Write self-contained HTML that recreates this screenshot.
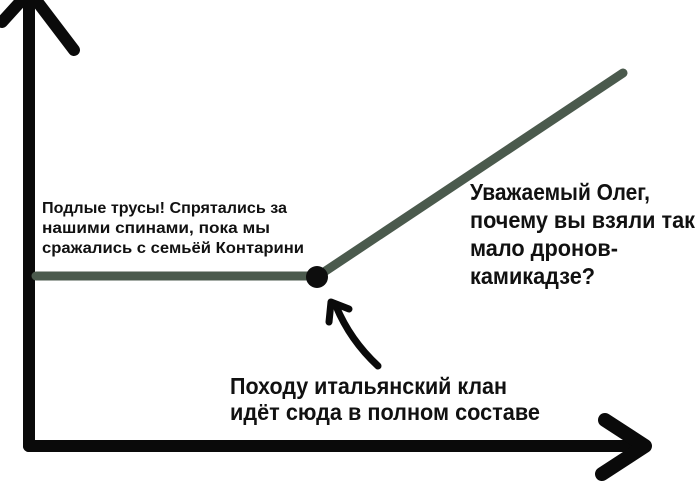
<!DOCTYPE html>
<html><head><meta charset="utf-8"><style>
html,body{margin:0;padding:0;background:#fff;}
svg{display:block}
text{font-family:"Liberation Sans",sans-serif;font-weight:bold;fill:#111;}
</style></head><body>
<svg width="700" height="492" viewBox="0 0 700 492" xmlns="http://www.w3.org/2000/svg">
<g stroke="#0a0a0a" stroke-linecap="round" stroke-linejoin="round" fill="none">
<line x1="29" y1="0" x2="29" y2="446" stroke-width="12"/>
<line x1="29" y1="446" x2="645" y2="446" stroke-width="12"/>
<path d="M22 0 L2 22" stroke-width="12"/>
<path d="M36 0 L74 50" stroke-width="12"/>
<path d="M605 420 L645 446 L602 474" stroke-width="14"/>
<path d="M378 366 Q350 340 336 306" stroke-width="7"/>
<path d="M349 309 L331 302 L329 322" stroke-width="7"/>
</g>
<g stroke="#4b5a4d" stroke-linecap="round" fill="none" stroke-width="9">
<line x1="36" y1="276" x2="318" y2="276"/>
<line x1="318" y1="276" x2="623" y2="73"/>
</g>
<circle cx="317" cy="277" r="11" fill="#0d0d0d"/>
<text font-size="16" lengthAdjust="spacingAndGlyphs"><tspan x="42" y="213" textLength="245" lengthAdjust="spacingAndGlyphs">Подлые трусы! Спрятались за</tspan><tspan x="42" y="233" textLength="228" lengthAdjust="spacingAndGlyphs">нашими спинами, пока мы</tspan><tspan x="42" y="253" textLength="262" lengthAdjust="spacingAndGlyphs">сражались с семьёй Контарини</tspan></text>
<text font-size="23"><tspan x="470" y="200" textLength="180" lengthAdjust="spacingAndGlyphs">Уважаемый Олег,</tspan><tspan x="470" y="228" textLength="225" lengthAdjust="spacingAndGlyphs">почему вы взяли так</tspan><tspan x="470" y="256" textLength="148" lengthAdjust="spacingAndGlyphs">мало дронов-</tspan><tspan x="470" y="284" textLength="125" lengthAdjust="spacingAndGlyphs">камикадзе?</tspan></text>
<text font-size="23"><tspan x="230" y="394" textLength="277" lengthAdjust="spacingAndGlyphs">Походу итальянский клан</tspan><tspan x="230" y="420" textLength="310" lengthAdjust="spacingAndGlyphs">идёт сюда в полном составе</tspan></text>
</svg>
</body></html>
